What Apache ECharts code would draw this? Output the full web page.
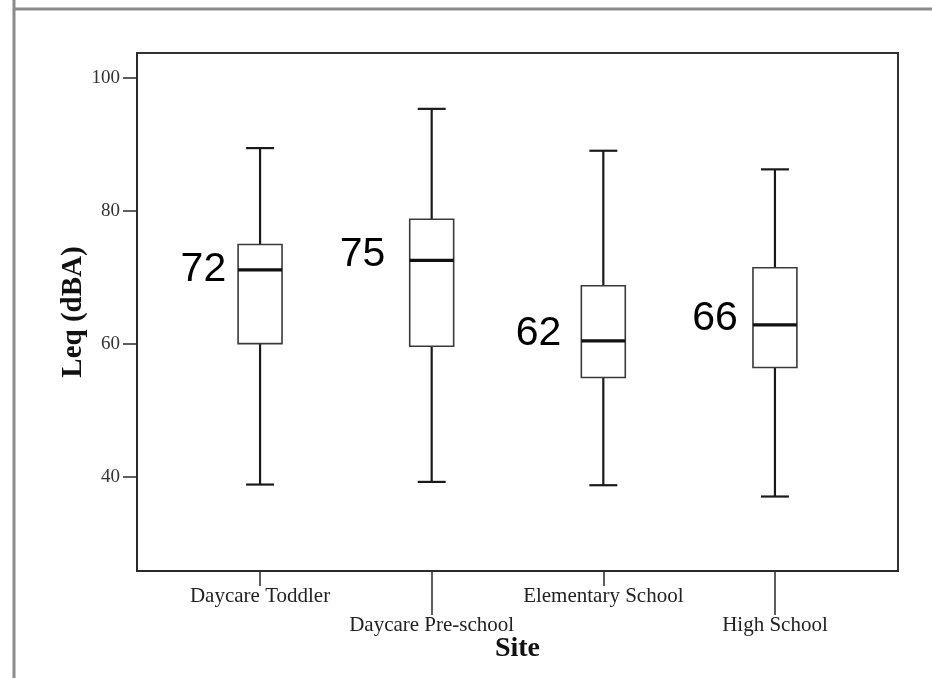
<!DOCTYPE html>
<html>
<head>
<meta charset="utf-8">
<script src="https://cdn.jsdelivr.net/npm/echarts@6/dist/echarts.min.js"></script>
<style>
html,body{margin:0;padding:0;background:#fff;}
#chart{width:932px;height:678px;}
</style>
</head>
<body>
<div id="chart"></div>
<script>
// ---- data ----
const sites = ['Daycare Toddler', 'Daycare Pre-school', 'Elementary School', 'High School'];
const whiskerLow  = [38.8, 39.2, 38.7, 37.0];
const q1          = [60.0, 59.6, 54.9, 56.4];
const median      = [71.1, 72.5, 60.4, 62.8];
const q3          = [74.9, 78.7, 68.7, 71.4];
const whiskerHigh = [89.4, 95.3, 89.0, 86.2];
const yTicks = [40, 60, 80, 100];
const annotText = ['72', '75', '62', '66'];
const annotY    = [71.1, 73.4, 61.5, 63.8];
const annotX    = [-0.33, 0.597, 1.623, 2.651];

const boxData = sites.map((s, i) => [i, whiskerLow[i], q1[i], median[i], q3[i], whiskerHigh[i]]);
const annotData = annotText.map((t, i) => [annotX[i], annotY[i], t]);
const evenIdx = sites.map((s, i) => i).filter(i => i % 2 === 0);
const oddIdx = sites.map((s, i) => i).filter(i => i % 2 === 1);

const serif = "'Liberation Serif', 'Times New Roman', serif";

const chart = echarts.init(document.getElementById('chart'));

function xAxisCfg(idx, tickLen, margin, showName) {
  return {
    type: 'value', position: 'bottom', min: -0.717, max: 3.717,
    splitLine: { show: false },
    axisLine: { show: true, onZero: false, lineStyle: { color: '#2a2a2a', width: 2 } },
    axisTick: { show: true, length: tickLen, customValues: idx, lineStyle: { color: '#2a2a2a', width: 1.5 } },
    axisLabel: {
      show: true, customValues: idx, margin: margin,
      formatter: v => sites[Math.round(v)],
      fontFamily: serif, fontSize: 21, color: '#222'
    },
    name: showName ? 'Site' : '', nameLocation: 'middle', nameGap: 64, nameMoveOverlap: false,
    nameTextStyle: { fontFamily: serif, fontSize: 28, fontWeight: 'bold', color: '#111' }
  };
}

chart.setOption({
  backgroundColor: '#fff',
  animation: false,
  graphic: [
    { type: 'line', shape: { x1: 14, y1: 0, x2: 14, y2: 678 }, style: { stroke: '#8c8c8c', lineWidth: 3 } },
    { type: 'line', shape: { x1: 14, y1: 9, x2: 932, y2: 9 }, style: { stroke: '#8c8c8c', lineWidth: 3 } }
  ],
  grid: {
    left: 137, right: 34, top: 53, bottom: 107,
    show: true, borderColor: '#333', borderWidth: 2, backgroundColor: 'transparent',
    outerBoundsMode: 'none', containLabel: false
  },
  xAxis: [xAxisCfg(evenIdx, 15, 15, true), xAxisCfg(oddIdx, 44, 44, false)],
  yAxis: {
    type: 'value', min: 25.8, max: 103.7,
    name: 'Leq (dBA)', nameLocation: 'middle', nameGap: 49, nameRotate: 90, nameMoveOverlap: false,
    nameTextStyle: { fontFamily: serif, fontSize: 29, fontWeight: 'bold', color: '#111' },
    splitLine: { show: false },
    axisLine: { show: true, onZero: false, lineStyle: { color: '#2a2a2a', width: 2 } },
    axisTick: { show: true, length: 14, customValues: yTicks, lineStyle: { color: '#2a2a2a', width: 1.5 } },
    axisLabel: { show: true, customValues: yTicks, margin: 17, fontFamily: serif, fontSize: 19, color: '#333' }
  },
  series: [
    {
      type: 'custom', xAxisIndex: 0, yAxisIndex: 0, clip: false,
      data: boxData,
      renderItem: function (params, api) {
        const x = api.value(0);
        const band = api.size([1, 0])[0];
        const bw = band * 0.256, cw = band * 0.163;
        const pLow = api.coord([x, api.value(1)]);
        const pQ1 = api.coord([x, api.value(2)]);
        const pMed = api.coord([x, api.value(3)]);
        const pQ3 = api.coord([x, api.value(4)]);
        const pHigh = api.coord([x, api.value(5)]);
        const cx = pMed[0];
        const wStyle = { stroke: '#1a1a1a', lineWidth: 2.2 };
        return {
          type: 'group',
          children: [
            { type: 'line', shape: { x1: cx, y1: pQ3[1], x2: cx, y2: pHigh[1] }, style: wStyle },
            { type: 'line', shape: { x1: cx, y1: pQ1[1], x2: cx, y2: pLow[1] }, style: wStyle },
            { type: 'line', shape: { x1: cx - cw / 2, y1: pHigh[1], x2: cx + cw / 2, y2: pHigh[1] }, style: wStyle },
            { type: 'line', shape: { x1: cx - cw / 2, y1: pLow[1], x2: cx + cw / 2, y2: pLow[1] }, style: wStyle },
            { type: 'rect', shape: { x: cx - bw / 2, y: pQ3[1], width: bw, height: pQ1[1] - pQ3[1] },
              style: { fill: '#fff', stroke: '#3a3a3a', lineWidth: 1.6 } },
            { type: 'line', shape: { x1: cx - bw / 2, y1: pMed[1], x2: cx + bw / 2, y2: pMed[1] },
              style: { stroke: '#111', lineWidth: 3.2 } }
          ]
        };
      }
    },
    {
      type: 'custom', xAxisIndex: 0, yAxisIndex: 0, clip: false,
      data: annotData,
      renderItem: function (params, api) {
        const p = api.coord([api.value(0), api.value(1)]);
        return {
          type: 'text',
          style: {
            text: annotText[params.dataIndex], x: p[0], y: p[1],
            align: 'center', verticalAlign: 'middle',
            font: "41px 'Liberation Sans', Arial, sans-serif", fill: '#000'
          }
        };
      }
    }
  ]
});
</script>
</body>
</html>
